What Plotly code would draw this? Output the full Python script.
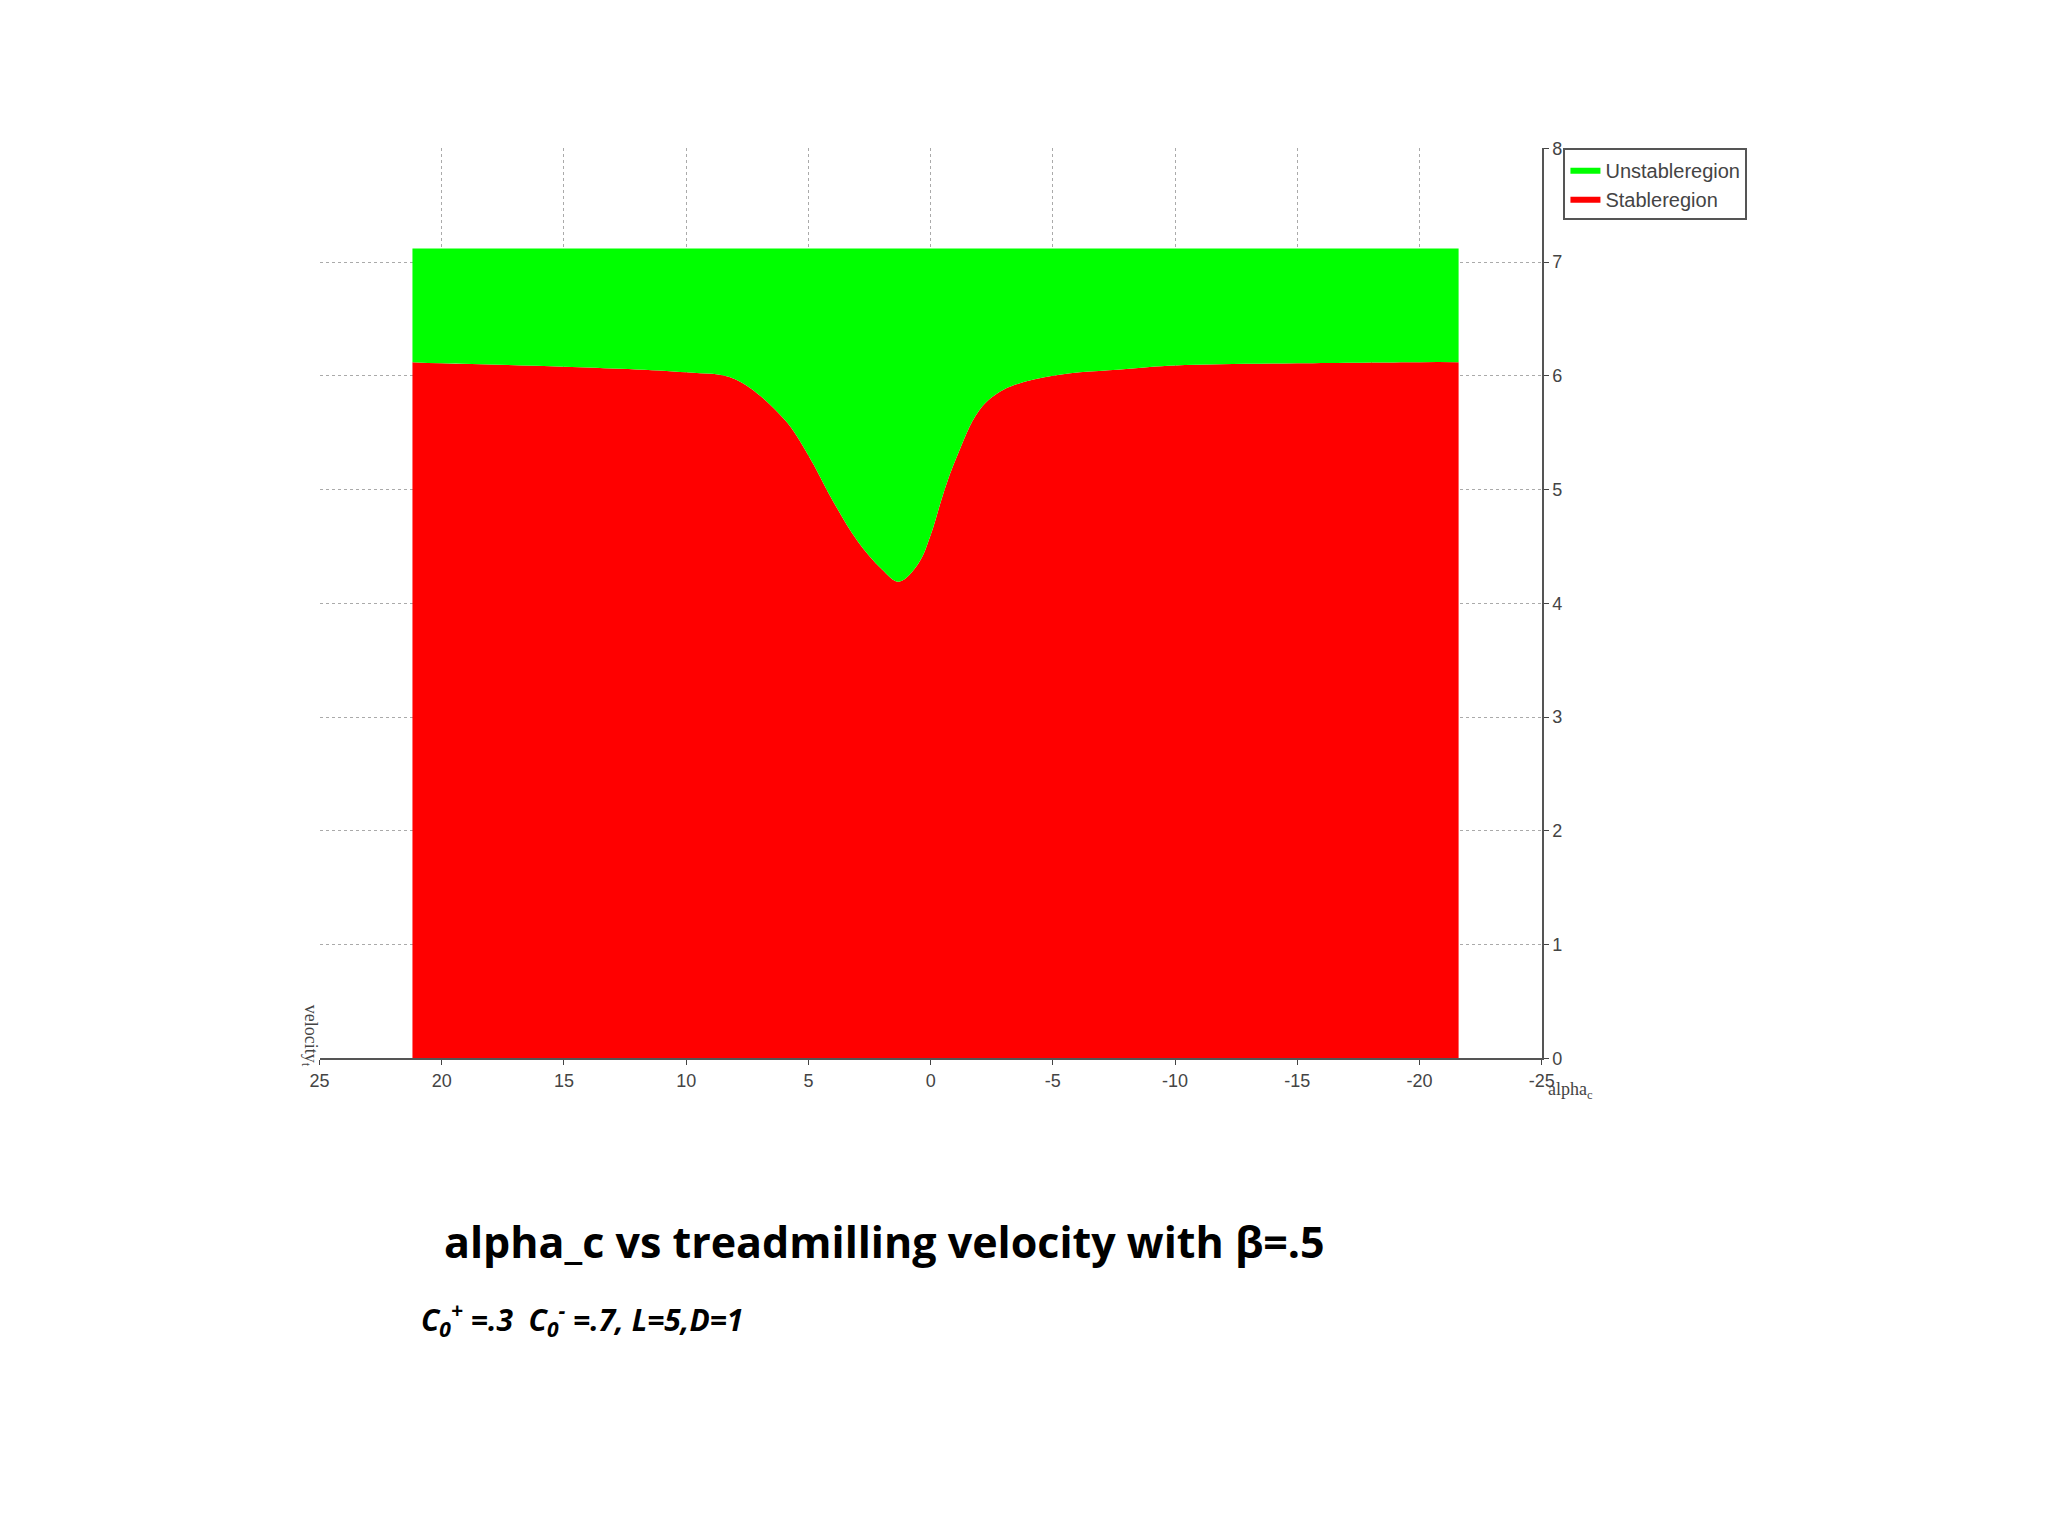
import plotly.graph_objects as go

# boundary between stable / unstable region
alpha = [21.2, 20, 15, 10, 8, 6, 5, 4, 3, 2, 1.3, 0.5, 0, -0.5, -1, -2, -3, -5, -8, -10, -15, -20, -21.6]
v_boundary = [6.12, 6.11, 6.08, 6.03, 5.97, 5.62, 5.30, 4.90, 4.55, 4.30, 4.19, 4.35, 4.60, 4.95, 5.25, 5.70, 5.88, 6.0, 6.06, 6.09, 6.11, 6.12, 6.12]
v_top = 7.12
x_ticks = [25, 20, 15, 10, 5, 0, -5, -10, -15, -20, -25]
x_labels = ['25', '20', '15', '10', '5', '0', '-5', '-10', '-15', '-20', '-25']

fig = go.Figure()
fig.add_trace(go.Scatter(x=alpha, y=v_boundary, fill='tozeroy', mode='lines',
                         line=dict(width=0, color='#ff0000', shape='spline'),
                         fillcolor='#ff0000', name='Stableregion'))
fig.add_trace(go.Scatter(x=alpha, y=[v_top] * len(alpha), fill='tonexty', mode='lines',
                         line=dict(width=0, color='#00ff00'),
                         fillcolor='#00ff00', name='Unstableregion'))

axis_font = dict(family='Liberation Sans Narrow, Liberation Sans', size=18, color='#444')
fig.update_xaxes(range=[25, -25], tickvals=x_ticks, ticktext=x_labels,
                 showgrid=True, gridcolor='#aaa', griddash='dot', zeroline=False,
                 showline=True, linecolor='#555', linewidth=2, ticks='outside',
                 tickfont=axis_font, domain=[305 / 2048, 1541 / 2048])
fig.update_yaxes(range=[0, 8], dtick=1, side='right', showgrid=True, gridcolor='#aaa',
                 griddash='dot', zeroline=False, showline=True, linecolor='#555',
                 linewidth=2, ticks='outside', tickfont=axis_font,
                 domain=[1 - 1054 / 1536, 1 - 132 / 1536])

fig.update_layout(
    width=2048, height=1536, plot_bgcolor='white', paper_bgcolor='white',
    margin=dict(l=0, r=0, t=0, b=0), showlegend=True,
    legend=dict(x=1563 / 2048, y=1 - 132 / 1536, xanchor='left', yanchor='top',
                traceorder='reversed', bordercolor='#555', borderwidth=2,
                font=dict(family='Liberation Sans Narrow, Liberation Sans', size=20, color='#444')),
    font=dict(family='Noto Sans'),
)

fig.add_annotation(x=282 / 2048, y=1 - 1065 / 1536, xref='paper', yref='paper',
                   text='velocity<sub>t</sub>', textangle=90, showarrow=False,
                   font=dict(family='Liberation Sans Narrow', size=18, color='#444'))
fig.add_annotation(x=1545 / 2048, y=1 - 1100 / 1536, xref='paper', yref='paper', xanchor='left',
                   text='alpha<sub>c</sub>', showarrow=False,
                   font=dict(family='Liberation Sans Narrow', size=18, color='#444'))
fig.add_annotation(x=876 / 2048, y=1 - 1272 / 1536, xref='paper', yref='paper',
                   text='<b>alpha_c vs treadmilling velocity with β=.5</b>', showarrow=False,
                   font=dict(family='Open Sans', size=43, color='black'))
fig.add_annotation(x=406 / 2048, y=1 - 1344 / 1536, xref='paper', yref='paper', xanchor='left',
                   text='<b><i>C<sub>0</sub><sup>+</sup> =.3  C<sub>0</sub><sup>-</sup> =.7, L=5,D=1</i></b>',
                   showarrow=False, font=dict(family='Open Sans', size=30, color='black'))

fig.write_html("out.html")
